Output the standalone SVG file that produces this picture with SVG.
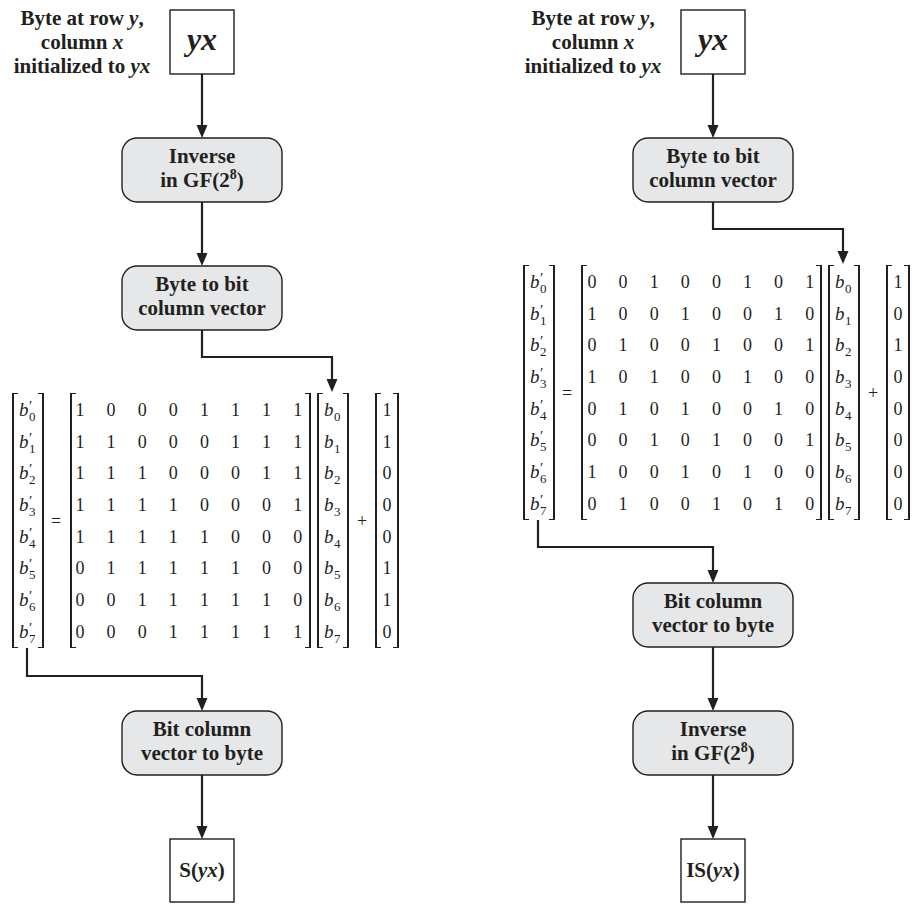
<svg xmlns="http://www.w3.org/2000/svg" width="912" height="905" viewBox="0 0 912 905">
<defs>
<style>
.t{font-family:"Liberation Serif","Times New Roman",serif;font-weight:bold;font-size:21px;fill:#231f20;text-anchor:middle}
.big{font-size:32px;font-style:italic}
.m{font-family:"Liberation Serif","Times New Roman",serif;font-size:18px;fill:#231f20;text-anchor:middle}
.bi{font-family:"Liberation Serif","Times New Roman",serif;font-size:19px;fill:#231f20;font-style:italic}
.sub{font-style:normal;font-size:13px}
.pr{font-style:normal;font-size:15px}
.box{fill:#e6e7e8;stroke:#231f20;stroke-width:1.4}
.sq{fill:#fff;stroke:#231f20;stroke-width:1.4}
.c{fill:none;stroke:#231f20;stroke-width:2.2;marker-end:url(#ah)}
.br{fill:none;stroke:#231f20;stroke-width:2}
.tk{fill:none;stroke:#231f20;stroke-width:1}
</style>
<marker id="ah" markerUnits="userSpaceOnUse" markerWidth="14" markerHeight="12" refX="9" refY="6" orient="auto">
<path d="M0,0.5 L13,6 L0,11.5 z" fill="#231f20"/>
</marker>
</defs>
<rect width="912" height="905" fill="#fff"/>

<!-- connectors -->
<g id="connectors">
<path class="c" d="M202,74 V134"/>
<path class="c" d="M202,202 V262"/>
<path class="c" d="M202,330 V357 H332 V388"/>
<path class="c" d="M27,648 V676 H202 V707"/>
<path class="c" d="M202,775 V835"/>
<path class="c" d="M713,74 V134"/>
<path class="c" d="M713,202 V229 H843 V260"/>
<path class="c" d="M538,520 V547 H713 V579"/>
<path class="c" d="M713,647 V707"/>
<path class="c" d="M713,775 V835"/>
</g>

<!-- LEFT -->
<g id="label-left">
<text class="t" x="82" y="25">Byte at row <tspan font-style="italic">y</tspan>,</text>
<text class="t" x="82" y="49">column <tspan font-style="italic">x</tspan></text>
<text class="t" x="82" y="73">initialized to <tspan font-style="italic">yx</tspan></text>
</g>
<g id="yx-left">
<rect class="sq" x="170" y="10" width="64" height="64"/>
<text class="t big" x="202" y="50">yx</text>
</g>
<g id="inverse-left">
<rect class="box" x="122" y="138" width="160" height="64" rx="15"/>
<text class="t" x="202" y="163">Inverse</text>
<text class="t" x="202" y="187">in GF(2<tspan font-size="14" dy="-8">8</tspan><tspan dy="8">)</tspan></text>
</g>
<g id="bytetobit-left">
<rect class="box" x="122" y="266" width="160" height="64" rx="15"/>
<text class="t" x="202" y="291">Byte to bit</text>
<text class="t" x="202" y="315">column vector</text>
</g>
<g id="matrix-left">
<path class="br" d="M13,393 V648 M43,393 V648"/>
<path class="tk" d="M13,393.5 H18 M13,647.5 H18 M43,393.5 H38 M43,647.5 H38"/>
<text class="bi" y="416"><tspan x="19">b</tspan><tspan class="pr" x="29" y="411">′</tspan><tspan class="sub" x="29" y="421">0</tspan></text>
<text class="bi" y="448"><tspan x="19">b</tspan><tspan class="pr" x="29" y="443">′</tspan><tspan class="sub" x="29" y="453">1</tspan></text>
<text class="bi" y="479"><tspan x="19">b</tspan><tspan class="pr" x="29" y="474">′</tspan><tspan class="sub" x="29" y="484">2</tspan></text>
<text class="bi" y="511"><tspan x="19">b</tspan><tspan class="pr" x="29" y="506">′</tspan><tspan class="sub" x="29" y="516">3</tspan></text>
<text class="bi" y="543"><tspan x="19">b</tspan><tspan class="pr" x="29" y="538">′</tspan><tspan class="sub" x="29" y="548">4</tspan></text>
<text class="bi" y="574"><tspan x="19">b</tspan><tspan class="pr" x="29" y="569">′</tspan><tspan class="sub" x="29" y="579">5</tspan></text>
<text class="bi" y="606"><tspan x="19">b</tspan><tspan class="pr" x="29" y="601">′</tspan><tspan class="sub" x="29" y="611">6</tspan></text>
<text class="bi" y="638"><tspan x="19">b</tspan><tspan class="pr" x="29" y="633">′</tspan><tspan class="sub" x="29" y="643">7</tspan></text>
<text class="m" x="56" y="527">=</text>
<path class="br" d="M71,393 V648 M310,393 V648"/>
<path class="tk" d="M71,393.5 H76 M71,647.5 H76 M310,393.5 H305 M310,647.5 H305"/>
<text class="m" x="80 111.1 142.2 173.3 204.4 235.5 266.6 297.7" y="416">10001111</text>
<text class="m" x="80 111.1 142.2 173.3 204.4 235.5 266.6 297.7" y="448">11000111</text>
<text class="m" x="80 111.1 142.2 173.3 204.4 235.5 266.6 297.7" y="479">11100011</text>
<text class="m" x="80 111.1 142.2 173.3 204.4 235.5 266.6 297.7" y="511">11110001</text>
<text class="m" x="80 111.1 142.2 173.3 204.4 235.5 266.6 297.7" y="543">11111000</text>
<text class="m" x="80 111.1 142.2 173.3 204.4 235.5 266.6 297.7" y="574">01111100</text>
<text class="m" x="80 111.1 142.2 173.3 204.4 235.5 266.6 297.7" y="606">00111110</text>
<text class="m" x="80 111.1 142.2 173.3 204.4 235.5 266.6 297.7" y="638">00011111</text>
<path class="br" d="M318,393 V648 M348,393 V648"/>
<path class="tk" d="M318,393.5 H323 M318,647.5 H323 M348,393.5 H343 M348,647.5 H343"/>
<text class="bi" y="416"><tspan x="324">b</tspan><tspan class="sub" x="334" y="421">0</tspan></text>
<text class="bi" y="448"><tspan x="324">b</tspan><tspan class="sub" x="334" y="453">1</tspan></text>
<text class="bi" y="479"><tspan x="324">b</tspan><tspan class="sub" x="334" y="484">2</tspan></text>
<text class="bi" y="511"><tspan x="324">b</tspan><tspan class="sub" x="334" y="516">3</tspan></text>
<text class="bi" y="543"><tspan x="324">b</tspan><tspan class="sub" x="334" y="548">4</tspan></text>
<text class="bi" y="574"><tspan x="324">b</tspan><tspan class="sub" x="334" y="579">5</tspan></text>
<text class="bi" y="606"><tspan x="324">b</tspan><tspan class="sub" x="334" y="611">6</tspan></text>
<text class="bi" y="638"><tspan x="324">b</tspan><tspan class="sub" x="334" y="643">7</tspan></text>
<text class="m" x="362" y="527">+</text>
<path class="br" d="M376,393 V648 M398,393 V648"/>
<path class="tk" d="M376,393.5 H381 M376,647.5 H381 M398,393.5 H393 M398,647.5 H393"/>
<text class="m" x="387" y="416">1</text>
<text class="m" x="387" y="448">1</text>
<text class="m" x="387" y="479">0</text>
<text class="m" x="387" y="511">0</text>
<text class="m" x="387" y="543">0</text>
<text class="m" x="387" y="574">1</text>
<text class="m" x="387" y="606">1</text>
<text class="m" x="387" y="638">0</text>
</g>
<g id="bittobyte-left">
<rect class="box" x="122" y="711" width="160" height="64" rx="15"/>
<text class="t" x="202" y="736">Bit column</text>
<text class="t" x="202" y="760">vector to byte</text>
</g>
<g id="s-left">
<rect class="sq" x="170" y="839" width="64" height="63"/>
<text class="t" x="202" y="877">S(<tspan font-style="italic">yx</tspan>)</text>
</g>

<!-- RIGHT -->
<g id="label-right">
<text class="t" x="593" y="25">Byte at row <tspan font-style="italic">y</tspan>,</text>
<text class="t" x="593" y="49">column <tspan font-style="italic">x</tspan></text>
<text class="t" x="593" y="73">initialized to <tspan font-style="italic">yx</tspan></text>
</g>
<g id="yx-right">
<rect class="sq" x="681" y="10" width="64" height="64"/>
<text class="t big" x="713" y="50">yx</text>
</g>
<g id="bytetobit-right">
<rect class="box" x="633" y="138" width="160" height="64" rx="15"/>
<text class="t" x="713" y="163">Byte to bit</text>
<text class="t" x="713" y="187">column vector</text>
</g>
<g id="matrix-right">
<path class="br" d="M524,265 V520 M554,265 V520"/>
<path class="tk" d="M524,265.5 H529 M524,519.5 H529 M554,265.5 H549 M554,519.5 H549"/>
<text class="bi" y="288"><tspan x="530">b</tspan><tspan class="pr" x="540" y="283">′</tspan><tspan class="sub" x="540" y="293">0</tspan></text>
<text class="bi" y="320"><tspan x="530">b</tspan><tspan class="pr" x="540" y="315">′</tspan><tspan class="sub" x="540" y="325">1</tspan></text>
<text class="bi" y="351"><tspan x="530">b</tspan><tspan class="pr" x="540" y="346">′</tspan><tspan class="sub" x="540" y="356">2</tspan></text>
<text class="bi" y="383"><tspan x="530">b</tspan><tspan class="pr" x="540" y="378">′</tspan><tspan class="sub" x="540" y="388">3</tspan></text>
<text class="bi" y="415"><tspan x="530">b</tspan><tspan class="pr" x="540" y="410">′</tspan><tspan class="sub" x="540" y="420">4</tspan></text>
<text class="bi" y="446"><tspan x="530">b</tspan><tspan class="pr" x="540" y="441">′</tspan><tspan class="sub" x="540" y="451">5</tspan></text>
<text class="bi" y="478"><tspan x="530">b</tspan><tspan class="pr" x="540" y="473">′</tspan><tspan class="sub" x="540" y="483">6</tspan></text>
<text class="bi" y="510"><tspan x="530">b</tspan><tspan class="pr" x="540" y="505">′</tspan><tspan class="sub" x="540" y="515">7</tspan></text>
<text class="m" x="567" y="399">=</text>
<path class="br" d="M582,265 V520 M821,265 V520"/>
<path class="tk" d="M582,265.5 H587 M582,519.5 H587 M821,265.5 H816 M821,519.5 H816"/>
<text class="m" x="592 623.1 654.2 685.3 716.4 747.5 778.6 809.7" y="288">00100101</text>
<text class="m" x="592 623.1 654.2 685.3 716.4 747.5 778.6 809.7" y="320">10010010</text>
<text class="m" x="592 623.1 654.2 685.3 716.4 747.5 778.6 809.7" y="351">01001001</text>
<text class="m" x="592 623.1 654.2 685.3 716.4 747.5 778.6 809.7" y="383">10100100</text>
<text class="m" x="592 623.1 654.2 685.3 716.4 747.5 778.6 809.7" y="415">01010010</text>
<text class="m" x="592 623.1 654.2 685.3 716.4 747.5 778.6 809.7" y="446">00101001</text>
<text class="m" x="592 623.1 654.2 685.3 716.4 747.5 778.6 809.7" y="478">10010100</text>
<text class="m" x="592 623.1 654.2 685.3 716.4 747.5 778.6 809.7" y="510">01001010</text>
<path class="br" d="M829,265 V520 M859,265 V520"/>
<path class="tk" d="M829,265.5 H834 M829,519.5 H834 M859,265.5 H854 M859,519.5 H854"/>
<text class="bi" y="288"><tspan x="835">b</tspan><tspan class="sub" x="845" y="293">0</tspan></text>
<text class="bi" y="320"><tspan x="835">b</tspan><tspan class="sub" x="845" y="325">1</tspan></text>
<text class="bi" y="351"><tspan x="835">b</tspan><tspan class="sub" x="845" y="356">2</tspan></text>
<text class="bi" y="383"><tspan x="835">b</tspan><tspan class="sub" x="845" y="388">3</tspan></text>
<text class="bi" y="415"><tspan x="835">b</tspan><tspan class="sub" x="845" y="420">4</tspan></text>
<text class="bi" y="446"><tspan x="835">b</tspan><tspan class="sub" x="845" y="451">5</tspan></text>
<text class="bi" y="478"><tspan x="835">b</tspan><tspan class="sub" x="845" y="483">6</tspan></text>
<text class="bi" y="510"><tspan x="835">b</tspan><tspan class="sub" x="845" y="515">7</tspan></text>
<text class="m" x="873" y="399">+</text>
<path class="br" d="M887,265 V520 M909,265 V520"/>
<path class="tk" d="M887,265.5 H892 M887,519.5 H892 M909,265.5 H904 M909,519.5 H904"/>
<text class="m" x="898" y="288">1</text>
<text class="m" x="898" y="320">0</text>
<text class="m" x="898" y="351">1</text>
<text class="m" x="898" y="383">0</text>
<text class="m" x="898" y="415">0</text>
<text class="m" x="898" y="446">0</text>
<text class="m" x="898" y="478">0</text>
<text class="m" x="898" y="510">0</text>
</g>
<g id="bittobyte-right">
<rect class="box" x="633" y="583" width="160" height="64" rx="15"/>
<text class="t" x="713" y="608">Bit column</text>
<text class="t" x="713" y="632">vector to byte</text>
</g>
<g id="inverse-right">
<rect class="box" x="633" y="711" width="160" height="64" rx="15"/>
<text class="t" x="713" y="736">Inverse</text>
<text class="t" x="713" y="760">in GF(2<tspan font-size="14" dy="-8">8</tspan><tspan dy="8">)</tspan></text>
</g>
<g id="is-right">
<rect class="sq" x="681" y="839" width="64" height="63"/>
<text class="t" x="713" y="877">IS(<tspan font-style="italic">yx</tspan>)</text>
</g>
</svg>
